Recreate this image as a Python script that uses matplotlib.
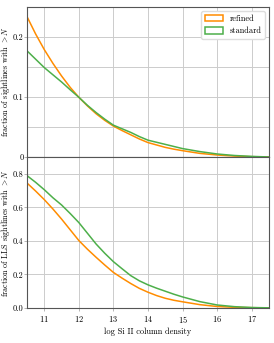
import matplotlib
matplotlib.use('Agg')
import matplotlib.pyplot as plt
from matplotlib.patches import Patch

plt.rcParams['font.family'] = 'serif'
plt.rcParams['font.serif'] = ['cmr10']
plt.rcParams['mathtext.fontset'] = 'cm'
plt.rcParams['axes.formatter.use_mathtext'] = True
plt.rcParams['axes.unicode_minus'] = False

# log Si II column density grid
logN = [10.5, 10.75, 11.0, 11.25, 11.5, 11.75, 12.0, 12.25, 12.5, 12.75, 13.0,
        13.25, 13.5, 13.75, 14.0, 14.25, 14.5, 14.75, 15.0, 15.5, 16.0, 16.5, 17.0, 17.5]

# fraction of all sightlines with > N
all_refined = [0.234, 0.205, 0.179, 0.156, 0.135, 0.116, 0.0995, 0.085, 0.072, 0.061, 0.0515,
               0.044, 0.037, 0.030, 0.024, 0.020, 0.016, 0.013, 0.0105, 0.006, 0.0033,
               0.0015, 0.0005, 0.0]
all_standard = [0.177, 0.163, 0.149, 0.137, 0.125, 0.112, 0.0995, 0.0860, 0.074, 0.063, 0.053,
                0.047, 0.041, 0.034, 0.028, 0.0245, 0.021, 0.0175, 0.014, 0.009, 0.005,
                0.0025, 0.001, 0.0]

# fraction of LLS sightlines with > N
lls_refined = [0.745, 0.697, 0.646, 0.590, 0.530, 0.466, 0.402, 0.350, 0.302, 0.256, 0.212,
               0.178, 0.146, 0.117, 0.094, 0.074, 0.058, 0.046, 0.037, 0.020, 0.009,
               0.004, 0.002, 0.0005]
lls_standard = [0.789, 0.749, 0.705, 0.657, 0.614, 0.563, 0.509, 0.445, 0.381, 0.326, 0.276,
                0.234, 0.193, 0.162, 0.138, 0.118, 0.100, 0.082, 0.066, 0.038, 0.018,
                0.008, 0.003, 0.001]

c_ref = '#ff8c00'
c_std = '#4daf4a'
fs = 6

fig = plt.figure(figsize=(2.74, 3.43), dpi=100)
ax1 = fig.add_axes([0.0985, 0.5423, 0.8835, 0.4373])
ax2 = fig.add_axes([0.0985, 0.102, 0.8835, 0.4403])

for ax in (ax1, ax2):
    ax.set_xlim(10.5, 17.5)
    ax.set_xticks([11, 12, 13, 14, 15, 16, 17])
    ax.grid(True, which='both', color='#cccccc', lw=0.7)
    ax.set_axisbelow(True)
    ax.tick_params(labelsize=fs, length=2.5, width=0.6, color='#aaaaaa', pad=2)
    ax.tick_params(axis='y', pad=0.5, length=2)
    for s in ax.spines.values():
        s.set_color('#555555')
        s.set_linewidth(0.8)

ax1.plot(logN, all_refined, color=c_ref, lw=1.1)
ax1.plot(logN, all_standard, color=c_std, lw=1.1)
ax1.set_ylim(0, 0.25)
ax1.set_yticks([0, 0.1, 0.2])
ax1.set_yticklabels(['0', '0.1', '0.2'])
ax1.set_yticks([0.05, 0.15, 0.25], minor=True)
ax1.tick_params(axis='y', which='minor', length=0)
ax1.tick_params(axis='x', labelbottom=False)
ax1.set_ylabel('fraction of sightlines with $> N$', fontsize=5.8)
ax1.yaxis.set_label_coords(-0.06, 0.5)

handles = [Patch(facecolor='none', edgecolor=c_ref, lw=1.1, label='refined'),
           Patch(facecolor='none', edgecolor=c_std, lw=1.1, label='standard')]
ax1.legend(handles=handles, loc='upper right', fontsize=fs, framealpha=1,
           edgecolor='#dddddd', handlelength=2.2, handleheight=0.9)

ax2.plot(logN, lls_refined, color=c_ref, lw=1.1)
ax2.plot(logN, lls_standard, color=c_std, lw=1.1)
ax2.set_ylim(0, 0.9)
ax2.set_yticks([0, 0.2, 0.4, 0.6, 0.8])
ax2.set_yticklabels(['0.0', '0.2', '0.4', '0.6', '0.8'])
ax2.set_ylabel('fraction of LLS sightlines with $> N$', fontsize=5.8)
ax2.yaxis.set_label_coords(-0.06, 0.5)
ax2.set_xlabel('log Si II column density', fontsize=fs, labelpad=2)

fig.savefig('out.png', dpi=100)
